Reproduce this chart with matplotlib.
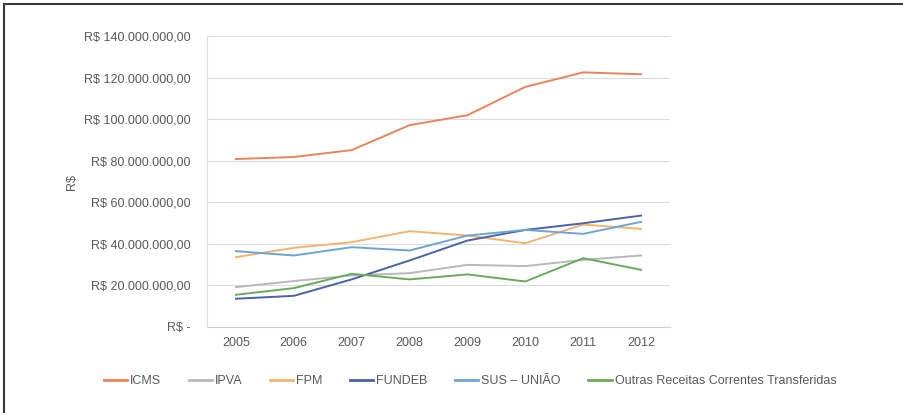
import matplotlib
matplotlib.use("Agg")
import matplotlib.pyplot as plt
from matplotlib.ticker import FuncFormatter
from matplotlib.lines import Line2D

years = ["2005", "2006", "2007", "2008", "2009", "2010", "2011", "2012"]
icms = [80.8, 81.8, 85.1, 97.1, 101.9, 115.5, 122.5, 121.6]
ipva = [19.2, 22.1, 24.8, 25.9, 29.9, 29.3, 32.3, 34.4]
fpm = [33.6, 38.1, 40.8, 46.1, 44.0, 40.3, 49.3, 47.2]
fundeb = [13.6, 15.0, 22.9, 32.0, 41.6, 46.7, 49.9, 53.6]
sus = [36.5, 34.4, 38.4, 36.8, 44.0, 46.7, 44.8, 50.6]
outras = [15.5, 18.7, 25.6, 22.9, 25.3, 21.9, 33.1, 27.5]

series_names = ["ICMS", "IPVA", "FPM", "FUNDEB", "SUS \u2013 UNIÃO",
                "Outras Receitas Correntes Transferidas"]
series_vals = [icms, ipva, fpm, fundeb, sus, outras]
colors = ["#E8845C", "#B8B8B8", "#F2B46E", "#4A62A8", "#6FA3D3", "#6BAA5C"]

plt.rcParams['font.family'] = ['Liberation Sans', 'DejaVu Sans']

fig = plt.figure(figsize=(9.04, 4.13), dpi=100)
ax = fig.add_axes([207/904, 1-327/413, (670-207)/904, (327-36)/413])

x = list(range(len(years)))
for name, vals, c in zip(series_names, series_vals, colors):
    ax.plot(x, [v * 1e6 for v in vals], color=c, lw=1.4, label=name)

ax.set_xlim(-0.5, len(years) - 0.5)
ax.set_ylim(0, 140e6)
ax.set_yticks([i * 20e6 for i in range(8)])


def fmt(v, pos):
    if v == 0:
        return "R$ -"
    s = f"{v:,.2f}".replace(",", "X").replace(".", ",").replace("X", ".")
    return "R$ " + s


ax.yaxis.set_major_formatter(FuncFormatter(fmt))
ax.set_xticks(x)
ax.set_xticklabels(years)
ax.grid(axis='y', color='#DCDCDC', lw=0.8)
ax.set_axisbelow(True)
for s in ['top', 'right']:
    ax.spines[s].set_visible(False)
ax.spines['left'].set_color('#E0E0E0')
ax.spines['bottom'].set_color('#D0D0D0')
ax.tick_params(axis='both', length=0, colors='#595959', labelsize=9)
ax.tick_params(axis='y', pad=12)
ax.tick_params(axis='x', pad=7)
ax.set_ylabel("R$", color='#595959', fontsize=9)
ax.yaxis.set_label_coords(-0.278, 0.5)

handles = [Line2D([0], [0], color=c, lw=2) for c in colors]
fig.legend(handles, series_names, loc='center', bbox_to_anchor=(0.52, 1-381/413),
           ncol=6, frameon=False, fontsize=9, labelcolor='#595959',
           handlelength=1.85, handletextpad=0.25, columnspacing=2.2)

# figure border (top and left)
fig.add_artist(Line2D([4/904, 1], [1-4/413, 1-4/413], color='#3A3A3A', lw=1.5,
                      transform=fig.transFigure))
fig.add_artist(Line2D([4/904, 4/904], [0, 1-4/413], color='#3A3A3A', lw=1.5,
                      transform=fig.transFigure))

fig.savefig("out.png", dpi=100)
